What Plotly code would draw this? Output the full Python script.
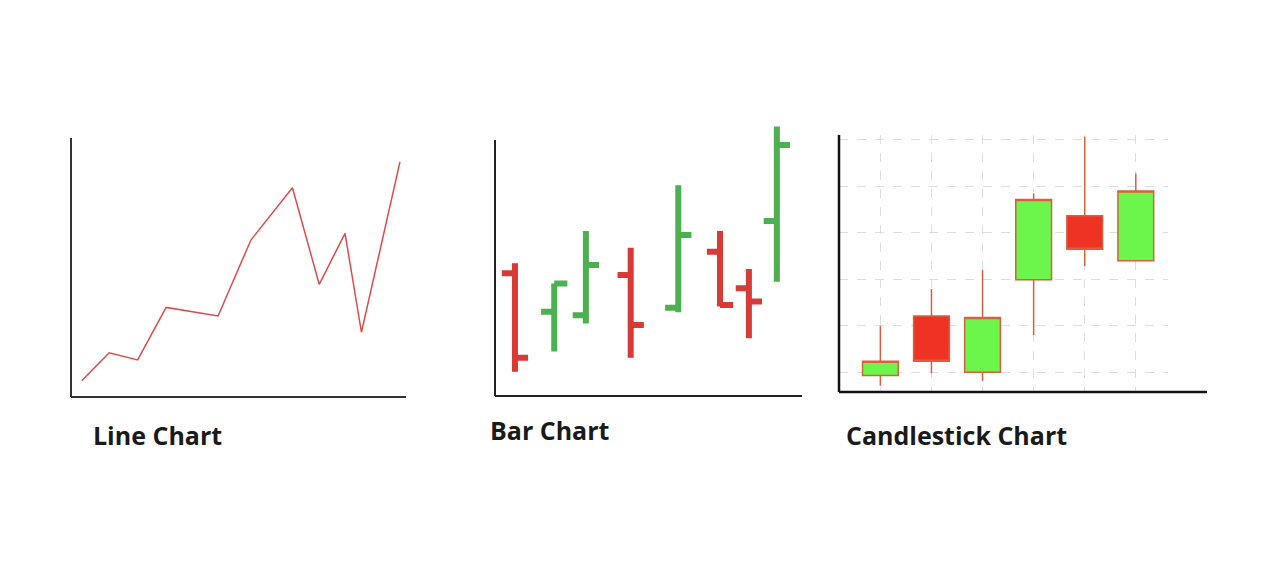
import plotly.graph_objects as go

W, H = 1280, 570
OFF = 8  # default page margin around the plot div

# --- Line chart data ---
line_x = [0.32, 1.14, 1.99, 2.84, 4.39, 5.37, 6.61, 7.41, 8.18, 8.67, 9.82]
line_y = [6.3, 17.1, 14.3, 34.6, 31.3, 60.6, 80.8, 43.5, 63.2, 25.0, 90.8]

# --- OHLC bar chart data ---
bar_x = [0.65, 1.93, 2.96, 4.42, 5.97, 7.33, 8.27, 9.18]
bar_open = [44.5, 30.5, 29.3, 43.8, 32.0, 52.3, 39.0, 63.4]
bar_high = [48.1, 40.8, 59.8, 53.7, 76.4, 59.8, 46.0, 97.6]
bar_low = [8.8, 16.1, 26.3, 13.9, 30.3, 32.4, 20.9, 41.4]
bar_close = [13.9, 40.8, 47.5, 25.7, 58.3, 33.0, 34.2, 90.9]

# --- Candlestick data ---
candle_x = [1, 2, 3, 4, 5, 6]
candle_open = [0.93, 2.21, 1.00, 2.99, 4.37, 3.40]
candle_high = [2.00, 2.79, 3.20, 4.85, 6.07, 5.28]
candle_low = [0.71, 0.98, 0.81, 1.80, 3.29, 3.40]
candle_close = [1.24, 1.24, 2.18, 4.72, 3.65, 4.90]

titles = ["Line Chart", "Bar Chart", "Candlestick Chart"]


def px_x(p):
    return (p - OFF) / W


def px_y(p):
    return 1 - (p - OFF) / H


fig = go.Figure()

fig.add_trace(go.Scatter(
    x=line_x, y=line_y, mode='lines',
    line=dict(color='#e04a4a', width=1.5),
    xaxis='x', yaxis='y', hoverinfo='skip'
))

fig.add_trace(go.Ohlc(
    x=bar_x, open=bar_open, high=bar_high, low=bar_low, close=bar_close,
    increasing=dict(line=dict(color='#4caf50', width=6)),
    decreasing=dict(line=dict(color='#d83a35', width=6)),
    tickwidth=0.47,
    xaxis='x2', yaxis='y2'
))

fig.add_trace(go.Candlestick(
    x=candle_x, open=candle_open, high=candle_high, low=candle_low, close=candle_close,
    increasing=dict(line=dict(color='#d9603f', width=1.5), fillcolor='#6cf54a'),
    decreasing=dict(line=dict(color='#d9603f', width=1.5), fillcolor='#ee3224'),
    whiskerwidth=0,
    xaxis='x3', yaxis='y3'
))

hidden = dict(showgrid=False, zeroline=False, showticklabels=False, ticks='',
              showline=False, fixedrange=True)

fig.update_layout(
    width=W, height=H,
    margin=dict(l=0, r=0, t=0, b=0),
    paper_bgcolor='white', plot_bgcolor='white',
    showlegend=False,
    boxgap=0.3, boxgroupgap=0,
    xaxis=dict(domain=[px_x(71), px_x(406)], range=[0, 10], anchor='y', **hidden),
    yaxis=dict(domain=[px_y(397), px_y(138)], range=[0, 100], anchor='x', **hidden),
    xaxis2=dict(domain=[px_x(495), px_x(802)], range=[0, 10], anchor='y2',
                rangeslider=dict(visible=False), **hidden),
    yaxis2=dict(domain=[px_y(396), px_y(120)], range=[0, 100], anchor='x2', **hidden),
    xaxis3=dict(domain=[px_x(839), px_x(1168)], range=[0.19, 6.63], anchor='y3',
                rangeslider=dict(visible=False),
                showgrid=True, gridcolor='#dddddd', griddash='dash', gridwidth=1,
                dtick=1, tick0=0, zeroline=False, showticklabels=False, ticks='',
                showline=False, fixedrange=True),
    yaxis3=dict(domain=[px_y(391.7), px_y(135)], range=[0.582, 6.107], anchor='x3',
                showgrid=True, gridcolor='#dddddd', griddash='dash', gridwidth=1,
                dtick=1, tick0=0, zeroline=False, showticklabels=False, ticks='',
                showline=False, fixedrange=True),
)

# axis lines (x0, y0, x1, y1 in pixels, colour, width)
axis_lines = [
    (71, 138, 71, 397, '#333333', 2),
    (71, 397, 406, 397, '#333333', 2),
    (495, 140, 495, 396, '#222222', 2),
    (495, 396, 802, 396, '#222222', 2),
    (839, 135, 839, 392, '#111111', 2.5),
    (839, 392, 1207, 392, '#111111', 2.5),
]
for x0, y0, x1, y1, c, w in axis_lines:
    fig.add_shape(type='line', xref='paper', yref='paper',
                  x0=px_x(x0), y0=px_y(y0), x1=px_x(x1), y1=px_y(y1),
                  line=dict(color=c, width=w))

title_pos = [(91, 435), (488, 430), (844, 435)]
for t, (x, y) in zip(titles, title_pos):
    fig.add_annotation(text='<b>%s</b>' % t, xref='paper', yref='paper',
                       x=px_x(x), y=px_y(y), xanchor='left', yanchor='middle',
                       showarrow=False,
                       font=dict(family='Open Sans', size=25, color='#1a1a1a'))

fig.write_html("out.html")
